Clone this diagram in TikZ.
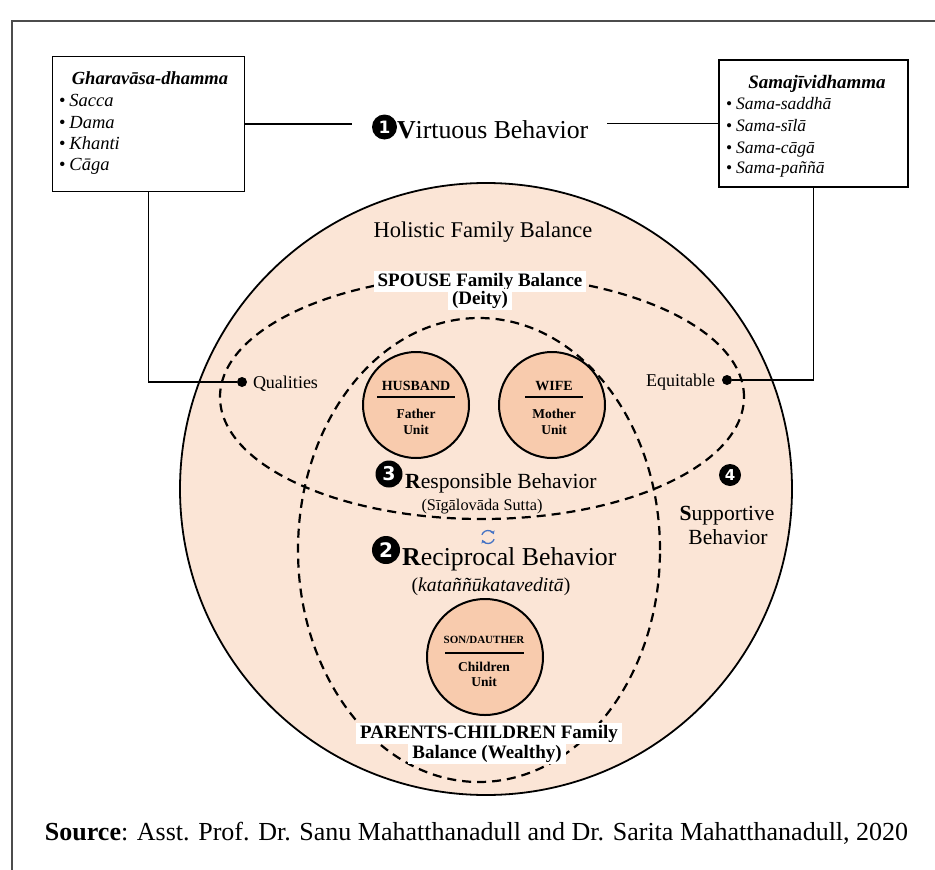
\documentclass[tikz,border=0pt]{standalone}
\usepackage{fontspec}
\setmainfont{Liberation Serif}
\newfontfamily\numfont{DejaVu Sans}
\usetikzlibrary{arrows.meta}
\definecolor{peach}{HTML}{FBE5D6}
\definecolor{peachdark}{HTML}{F8CBAD}
\definecolor{iconblue}{HTML}{4472C4}
\newcommand{\fsz}[1]{\fontsize{#1pt}{#1pt}\selectfont}
\begin{document}
\begin{tikzpicture}[x=1pt,y=-1pt,
  txt/.style={inner sep=0pt, outer sep=0pt},
  boxnode/.style={draw, line width=1.6pt, inner sep=0pt, outer sep=0pt, fill=white},
  unitc/.style={circle, draw, line width=2pt, fill=peachdark, inner sep=0pt},
  dashell/.style={line width=2.2pt, dash pattern=on 9pt off 6pt},
  numc/.style={circle, fill=black, text=white, inner sep=0pt, font=\numfont\bfseries},
  dotn/.style={circle, fill=black, inner sep=0pt, minimum size=10pt},
  conn/.style={line width=1.1pt},
  whitebg/.style={fill=white, inner xsep=4pt, inner ysep=1.5pt, anchor=base}
]
\useasboundingbox[fill=white] (0,0) rectangle (935,870);
\draw[line width=1.2pt, black!70] (12,870) -- (12,21) -- (935,21);

% big circle
\node[circle, draw, line width=1.8pt, fill=peach, minimum size=612pt, inner sep=0pt] (big) at (486,489) {};
\node[txt, anchor=base, font=\fsz{22.5}] (holistic) at (483,237) {Holistic Family Balance};

% dashed ellipses
\draw[dashell] (482,397) ellipse [x radius=262pt, y radius=122pt];
\draw[dashell] (479,550) ellipse [x radius=181pt, y radius=232pt];

% unit circles
\node[unitc, minimum size=106pt] (husband) at (416,405) {};
\node[unitc, minimum size=106pt] (wife) at (552,405) {};
\node[unitc, minimum size=116pt] (child) at (485,657) {};

\node[txt, anchor=base, font=\bfseries\fsz{14}] (hus) at (416,390) {HUSBAND};
\draw[line width=1.6pt] (377,397) -- (455,397);
\node[txt, anchor=base, font=\bfseries\fsz{13.5}] (fat) at (416,418) {Father};
\node[txt, anchor=base, font=\bfseries\fsz{13.5}] (fatu) at (416,434) {Unit};

\node[txt, anchor=base, font=\bfseries\fsz{14}] (wif) at (554,390) {WIFE};
\draw[line width=1.6pt] (525,397) -- (583,397);
\node[txt, anchor=base, font=\bfseries\fsz{13.5}] (mot) at (554,418) {Mother};
\node[txt, anchor=base, font=\bfseries\fsz{13.5}] (motu) at (554,434) {Unit};

\node[txt, anchor=base, font=\bfseries\fsz{11}] (son) at (484,643) {SON/DAUTHER};
\draw[line width=1.6pt] (445,653) -- (524,653);
\node[txt, anchor=base, font=\bfseries\fsz{13.5}] (chi) at (484,671) {Children};
\node[txt, anchor=base, font=\bfseries\fsz{13.5}] (chiu) at (484,686) {Unit};

% balance labels
\node[whitebg, font=\bfseries\fsz{19}] (spouse1) at (480,286) {SPOUSE Family Balance};
\node[whitebg, font=\bfseries\fsz{19}] (spouse2) at (480,304) {(Deity)};
\node[whitebg, font=\bfseries\fsz{19}] (parents1) at (489,738) {PARENTS-CHILDREN Family};
\node[whitebg, font=\bfseries\fsz{19}] (parents2) at (487,758) {Balance (Wealthy)};

% behaviours
\node[numc, minimum size=27pt, font=\numfont\bfseries\fsz{19}] (n3) at (389,474) {3};
\node[txt, anchor=base west, font=\fsz{21.6}] (resp) at (405,488) {\textbf{R}esponsible Behavior};
\node[txt, anchor=base, font=\fsz{16.3}] (siga) at (482,510) {(Sīgālovāda Sutta)};

\coordinate (ic) at (488,537);
\draw[iconblue, line width=1.3pt, -{Stealth[length=3.5pt,width=4.5pt]}] ([shift={(160:6.5pt)}]ic) arc[start angle=160, end angle=25, radius=6.5pt];
\draw[iconblue, line width=1.3pt, -{Stealth[length=3.5pt,width=4.5pt]}] ([shift={(-20:6.5pt)}]ic) arc[start angle=-20, end angle=-155, radius=6.5pt];

\node[numc, minimum size=28pt, font=\numfont\bfseries\fsz{20}] (n2) at (386,550) {2};
\node[txt, anchor=base west, font=\fsz{25.8}] (recip) at (402,565) {\textbf{R}eciprocal Behavior};
\node[txt, anchor=base, font=\fsz{19.7}] (kata) at (491,591) {(\textit{kataññūkataveditā})};

\node[numc, minimum size=22pt, font=\numfont\bfseries\fsz{15}] (n4) at (730,475) {4};
\node[txt, anchor=base, font=\fsz{21.6}] (supp) at (727,520) {\textbf{S}upportive};
\node[txt, anchor=base, font=\fsz{21.6}] (suppb) at (728,544) {Behavior};

% virtuous
\node[numc, minimum size=25pt, font=\numfont\bfseries\fsz{17}] (n1) at (384.5,127) {1};
\node[txt, anchor=base west, font=\fsz{25.8}] (virt) at (397,138) {\textbf{V}irtuous Behavior};

% boxes
\node[boxnode, minimum width=192pt, minimum height=135pt] (gbox) at (148.5,124) {};
\node[boxnode, minimum width=189pt, minimum height=127pt] (sbox) at (813.5,123.5) {};

\node[txt, anchor=base, font=\bfseries\itshape\fsz{18.5}] (gtitle) at (150,84) {Gharavāsa-dhamma};
\node[txt, anchor=base west, font=\itshape\fsz{18.5}] (g1) at (59,106) {{\upshape\textbullet}\hspace{4pt}Sacca};
\node[txt, anchor=base west, font=\itshape\fsz{18.5}] (g2) at (59,128) {{\upshape\textbullet}\hspace{4pt}Dama};
\node[txt, anchor=base west, font=\itshape\fsz{18.5}] (g3) at (59,149) {{\upshape\textbullet}\hspace{4pt}Khanti};
\node[txt, anchor=base west, font=\itshape\fsz{18.5}] (g4) at (59,170) {{\upshape\textbullet}\hspace{4pt}Cāga};

\node[txt, anchor=base, font=\bfseries\itshape\fsz{19}] (stitle) at (817,88) {Samajīvidhamma};
\node[txt, anchor=base west, font=\itshape\fsz{17.5}] (s1) at (726,109) {{\upshape\textbullet}\hspace{4pt}Sama-saddhā};
\node[txt, anchor=base west, font=\itshape\fsz{17.5}] (s2) at (726,131) {{\upshape\textbullet}\hspace{4pt}Sama-sīlā};
\node[txt, anchor=base west, font=\itshape\fsz{17.5}] (s3) at (726,153) {{\upshape\textbullet}\hspace{4pt}Sama-cāgā};
\node[txt, anchor=base west, font=\itshape\fsz{17.5}] (s4) at (726,173) {{\upshape\textbullet}\hspace{4pt}Sama-paññā};

% qualities / equitable
\node[dotn] (qdot) at (242,382) {};
\node[dotn] (edot) at (727,380) {};
\node[txt, anchor=base west, font=\fsz{18}] (qual) at (253,388) {Qualities};
\node[txt, anchor=base east, font=\fsz{18}] (equi) at (715,386) {Equitable};

% connectors
\draw[conn, shorten >=20pt] (gbox.east) -- (gbox.east -| n1.west);
\draw[conn, shorten <=19pt] (sbox.west -| virt.east) -- (sbox.west);
\draw[conn] (gbox.south) |- (qdot);
\draw[conn] (sbox.south) |- (edot);

% source
\node[txt, anchor=base west, font=\fsz{26}] (src) at (45,840) {\textbf{Source}: Asst. Prof. Dr. Sanu Mahatthanadull and Dr. Sarita Mahatthanadull, 2020};
\end{tikzpicture}
\end{document}
